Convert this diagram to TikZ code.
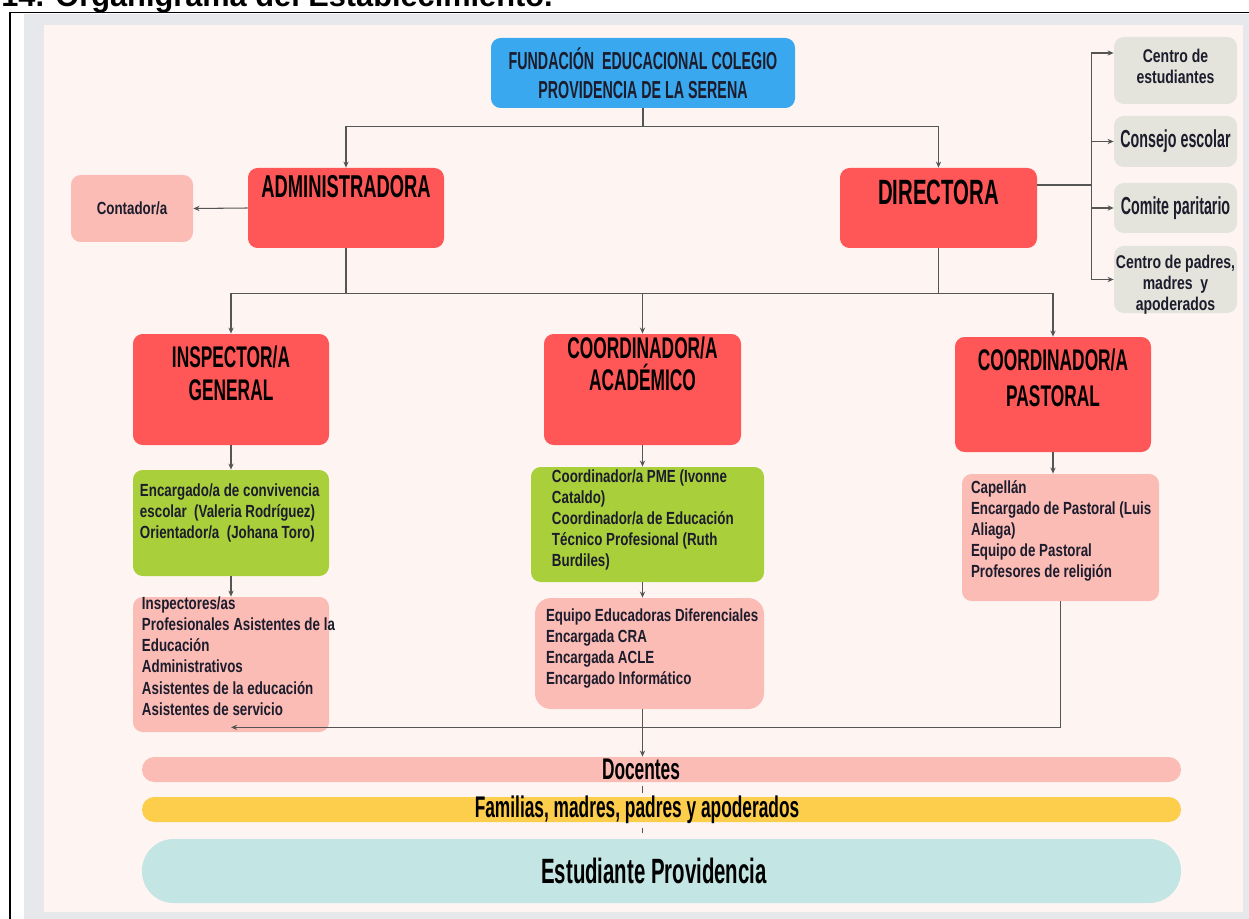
\documentclass[tikz,border=0pt]{standalone}
\usepackage{fontspec}
\setmainfont{Liberation Sans}
\newfontfamily\headfont{Liberation Sans}[FakeStretch=0.58]
\newfontfamily\listfont{Liberation Sans}[FakeStretch=0.76]
\usetikzlibrary{arrows.meta}

\definecolor{orgred}{HTML}{FF5757}
\definecolor{orgblue}{HTML}{3AA8EE}
\definecolor{orgpink}{HTML}{FBBCB6}
\definecolor{orggreen}{HTML}{A9D03B}
\definecolor{sidegray}{HTML}{E4E4DC}
\definecolor{orgyellow}{HTML}{FDCD4C}
\definecolor{orgteal}{HTML}{C3E5E3}
\definecolor{pagebg}{HTML}{FEF5F3}
\definecolor{framebg}{HTML}{E7E8EC}
\definecolor{linegray}{HTML}{555555}
\definecolor{txtdark}{HTML}{1C1C2C}

\tikzset{
  wh/.style 2 args={minimum width={#1*0.02cm},minimum height={#2*0.02cm}},
  box/.style={rounded corners=5.5pt, inner sep=0pt},
  headbox/.style={box, fill=orgred},
  headtxt/.style 2 args={font=\headfont\bfseries\fontsize{#1}{#2}\selectfont, align=center, inner sep=0pt, text=black},
  listtxt/.style={font=\listfont\bfseries\fontsize{10}{12}\selectfont, align=left, inner sep=0pt, text=txtdark},
  sidetxt/.style={listtxt, align=center, font=\listfont\bfseries\fontsize{10.5}{12}\selectfont},
  link/.style={draw=linegray, line width=0.6pt},
}

\begin{document}
\begin{tikzpicture}[x=0.02cm,y=-0.02cm,>={Stealth[length=3.5pt,width=3pt]}]
% page frame
\useasboundingbox (0,0) rectangle (1249,919);
\fill[framebg] (24,14) rectangle (1249,919);
\fill[pagebg] (44,25) rectangle (1243,912);
\draw[line width=1.1pt] (10,919) -- (10,12.5) -- (1249,12.5);
\node[anchor=base west, font=\bfseries\fontsize{17.5}{20}\selectfont, inner sep=0pt] (title) at (1,7) {14. Organigrama del Establecimiento.};

% top of the chart
\node[box, fill=orgblue, wh={304}{70}, headtxt={14}{16.5}, text=txtdark] (fund) at (643,73) {FUNDACIÓN~~EDUCACIONAL COLEGIO\\PROVIDENCIA DE LA SERENA};
\node[headbox, wh={196}{80}, label={[headtxt={18}{20},yshift=0.43cm]center:ADMINISTRADORA}] (admin) at (346,208) {};
\node[box, fill=orgpink, wh={122}{67}, listtxt] (cont) at (132,208.5) {Contador/a};
\node[headbox, wh={197}{80}, label={[headtxt={20}{22},yshift=0.32cm]center:DIRECTORA}] (dir) at (938.5,208) {};

% side boxes
\node[box, fill=sidegray, wh={123}{67}, label={[sidetxt,yshift=0.08cm]center:{Centro de\\estudiantes}}] (est) at (1175.5,70.5) {};
\node[box, fill=sidegray, wh={123}{51}, headtxt={14}{16}, text=txtdark] (cons) at (1175.5,141.5) {Consejo escolar};
\node[box, fill=sidegray, wh={123}{50}, headtxt={14}{16}, text=txtdark] (com) at (1175.5,208) {Comite paritario};
\node[box, fill=sidegray, wh={123}{67}, label={[sidetxt,yshift=-0.11cm]center:{Centro de padres,\\madres~~y\\apoderados}}] (pad) at (1175.5,279.5) {};

% second level
\node[headbox, wh={196}{111}, label={[headtxt={17}{18.8},yshift=0.32cm]center:{INSPECTOR/A\\GENERAL}}] (insp) at (231,389.5) {};
\node[headbox, wh={197}{111}, label={[headtxt={17}{18.2},yshift=0.51cm]center:{COORDINADOR/A\\ACADÉMICO}}] (acad) at (642.5,389.5) {};
\node[headbox, wh={196}{115}, label={[headtxt={17}{20.5},yshift=0.33cm]center:{COORDINADOR/A\\PASTORAL}}] (past) at (1053,394.5) {};

% teams
\node[box, fill=orggreen, wh={196}{106}, label={[listtxt,anchor=north west,xshift=0.14cm,yshift=-0.27cm]north west:{Encargado/a de convivencia\\escolar~~(Valeria Rodríguez)\\Orientador/a~~(Johana Toro)}}] (conv) at (231,523) {};
\node[box, fill=orgpink, wh={196}{135}, label={[listtxt,anchor=north west,xshift=0.18cm,yshift=0cm]north west:{Inspectores/as\\Profesionales Asistentes de la\\Educación\\Administrativos\\Asistentes de la educación\\Asistentes de servicio}}] (insgroup) at (231,664.5) {};
\node[box, fill=orggreen, wh={233}{115}, label={[listtxt,anchor=north west,xshift=0.42cm,yshift=-0.05cm]north west:{Coordinador/a PME (Ivonne\\Cataldo)\\Coordinador/a de Educación\\Técnico Profesional (Ruth\\Burdiles)}}] (pme) at (647.5,524.5) {};
\node[box, fill=orgpink, rounded corners=9pt, wh={229}{111}, label={[listtxt,anchor=north west,xshift=0.22cm,yshift=-0.21cm]north west:{Equipo Educadoras Diferenciales\\Encargada CRA\\Encargada ACLE\\Encargado Informático}}] (equipo) at (649.5,653.5) {};
\node[box, fill=orgpink, wh={197}{127}, label={[listtxt,anchor=north west,xshift=0.18cm,yshift=-0.13cm]north west:{Capellán\\Encargado de Pastoral (Luis\\Aliaga)\\Equipo de Pastoral\\Profesores de religión}}] (capilla) at (1060.5,537.5) {};

% community bars
\node[box, fill=orgpink, rounded corners=7pt, wh={1039}{25}, label={[headtxt={17}{19},xshift=-0.41cm]center:Docentes}] (doc) at (661.5,769.5) {};
\node[box, fill=orgyellow, rounded corners=7pt, wh={1039}{25}, label={[headtxt={17}{19},xshift=-0.49cm]center:{Familias, madres, padres y apoderados}}] (fam) at (661.5,809.5) {};
\node[box, fill=orgteal, rounded corners=18pt, wh={1039}{64}, label={[headtxt={20}{22},xshift=-0.15cm]center:Estudiante Providencia}] (stu) at (661.5,871) {};

% connectors
\draw[link] (fund.south) -- ++(0,18) coordinate (topbus);
\draw[link,->] (topbus) -| (admin.north);
\draw[link,->] (topbus) -| (dir.north);
\draw[link,->] (admin.west) -- (cont.east);
\draw[link] ([yshift=0.46cm]dir.east) -- ++(54,0) coordinate (sidebus);
\coordinate (estin) at ([yshift=0.35cm]est.west);
\draw[link,->] (sidebus |- pad.west) -- (sidebus |- estin) -- (estin);
\foreach \n in {cons,com,pad}
  \draw[link,->] (sidebus |- \n.west) -- (\n.west);
\draw[link] (admin.south) -- ++(0,45) coordinate (midbus);
\draw[link] (dir.south) -- (dir.south |- midbus);
\foreach \n in {insp,acad,past}
  \draw[link,->] (midbus) -| (\n.north);
\draw[link,->] (insp.south) -- (conv.north);
\draw[link,->] (conv.south) -- (insgroup.north);
\draw[link,->] (acad.south) -- (acad.south |- pme.north);
\draw[link,->] (acad.south |- pme.south) -- (acad.south |- equipo.north);
\draw[link,->] (past.south) -- (past.south |- capilla.north);
\draw[link,->] (capilla.south) |- ([yshift=0.1cm]insgroup.south);
\draw[link,->] (acad.south |- equipo.south) -- (acad.south |- doc.north);
\draw[link, shorten <=2pt, shorten >=2pt] (acad.south |- doc.south) -- (acad.south |- fam.north);
\draw[link, shorten <=3pt, shorten >=3pt] (acad.south |- fam.south) -- (acad.south |- stu.north);
\end{tikzpicture}
\end{document}
